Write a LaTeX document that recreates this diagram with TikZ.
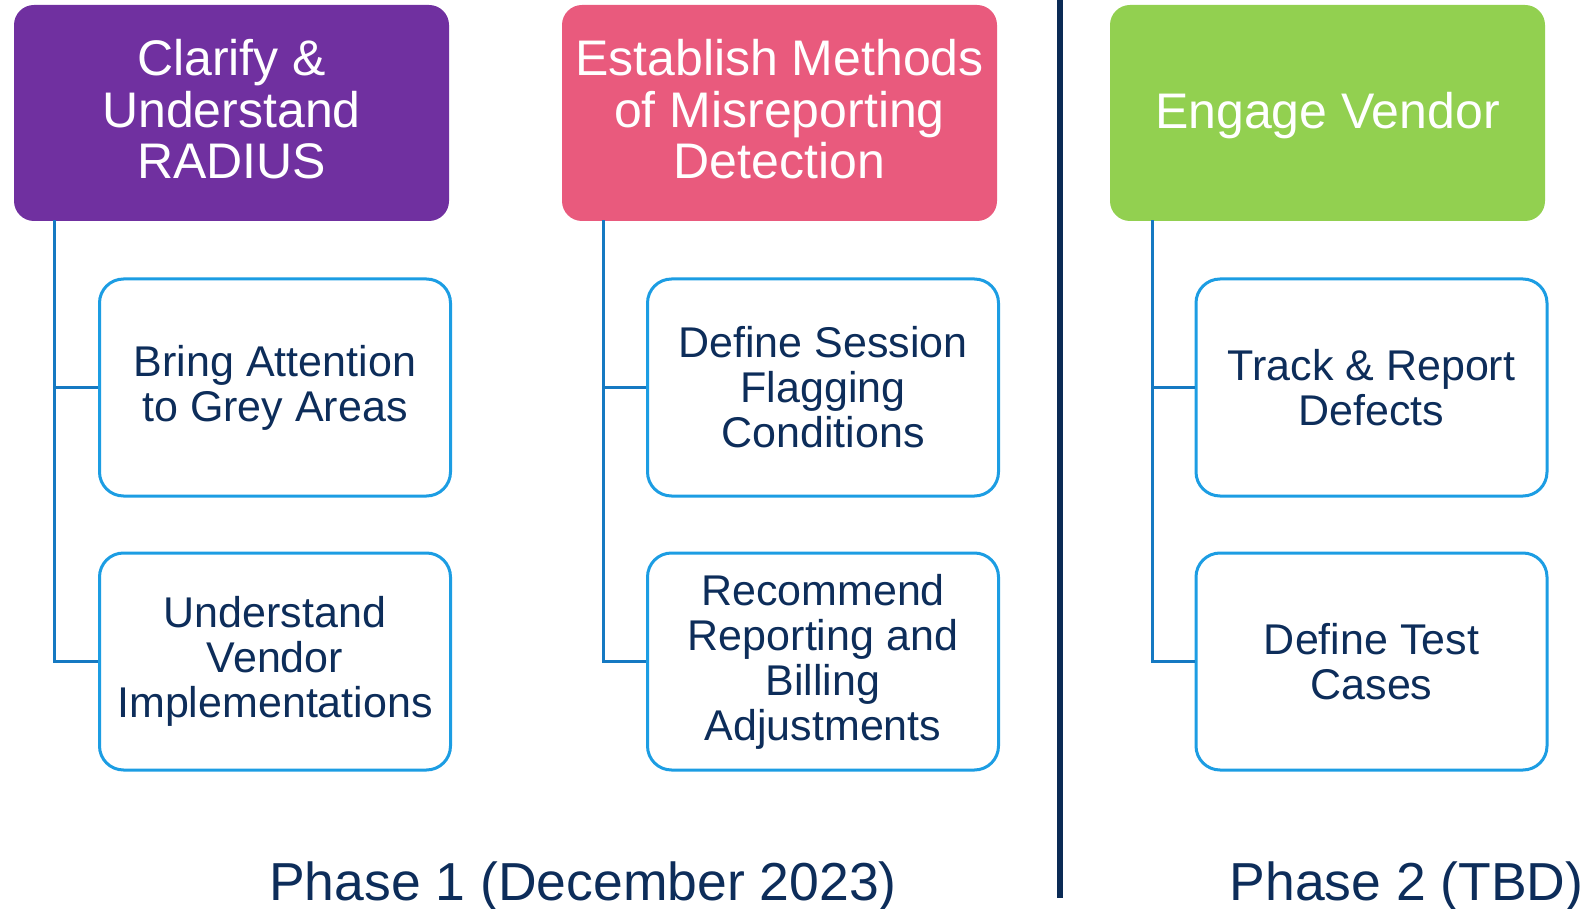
\documentclass[tikz,border=0pt]{standalone}
\usepackage{fontspec}
\setmainfont{Liberation Sans}
\definecolor{hpurple}{HTML}{7030A0}
\definecolor{hpink}{HTML}{E95A7D}
\definecolor{hgreen}{HTML}{92D050}
\definecolor{navy}{HTML}{0D2D5A}
\definecolor{cborder}{HTML}{1C9DE3}
\definecolor{cline}{HTML}{1579C2}
\definecolor{divcol}{HTML}{0A2A55}
\tikzset{
  header/.style={rounded corners=20pt, minimum width=435pt, minimum height=216pt, text=white, align=center, inner sep=0pt, font=\fontsize{50}{51.5}\selectfont},
  childbox/.style={draw=cborder, line width=3pt, rounded corners=24pt, fill=white, minimum width=351pt, minimum height=217pt, text=navy, align=center, inner sep=0pt, font=\fontsize{43}{45}\selectfont},
  conn/.style={draw=cline, line width=3pt},
  phase/.style={text=navy, anchor=base, inner sep=0pt, font=\fontsize{53.5}{55}\selectfont}
}
\begin{document}
\begin{tikzpicture}[x=1pt,y=-1pt]
\useasboundingbox (0,0) rectangle (1585,909);
% headers
\node[header, fill=hpurple, text depth=8pt] (h1) at (231.5,113) {Clarify \&\\Understand\\RADIUS};
\node[header, fill=hpink, text depth=8pt] (h2) at (779.5,113) {Establish Methods\\of Misreporting\\Detection};
\node[header, fill=hgreen, text depth=6pt] (h3) at (1327.5,113) {Engage Vendor};
% children
\node[childbox] (c11) at (275,387.5) {Bring Attention\\to Grey Areas};
\node[childbox] (c12) at (275,661.5) {Understand\\Vendor\\Implementations};
\node[childbox] (c21) at (823,387.5) {Define Session\\Flagging\\Conditions};
\node[childbox] (c22) at (823,661.5) {Recommend\\Reporting and\\Billing\\Adjustments};
\node[childbox] (c31) at (1371.5,387.5) {Track \& Report\\Defects};
\node[childbox] (c32) at (1371.5,661.5) {Define Test\\Cases};
% trunks
\coordinate (t1) at ([xshift=41pt,yshift=1pt]h1.south west);
\coordinate (t2) at ([xshift=42pt,yshift=1pt]h2.south west);
\coordinate (t3) at ([xshift=43pt,yshift=1pt]h3.south west);
\draw[conn] (t1) |- (c12.west);
\draw[conn] (t1 |- c11.west) -- (c11.west);
\draw[conn] (t2) |- (c22.west);
\draw[conn] (t2 |- c21.west) -- (c21.west);
\draw[conn] (t3) |- (c32.west);
\draw[conn] (t3 |- c31.west) -- (c31.west);
% divider
\coordinate (dtop) at (1060,0);
\coordinate (dbot) at (1060,898);
\draw[divcol, line width=5.5pt] (dtop) -- (dbot);
% phase labels
\node[phase] (p1) at (583,900) {Phase 1 (December 2023)};
\node[phase] (p2) at (1406.5,900) {Phase 2 (TBD)};
\end{tikzpicture}
\end{document}
